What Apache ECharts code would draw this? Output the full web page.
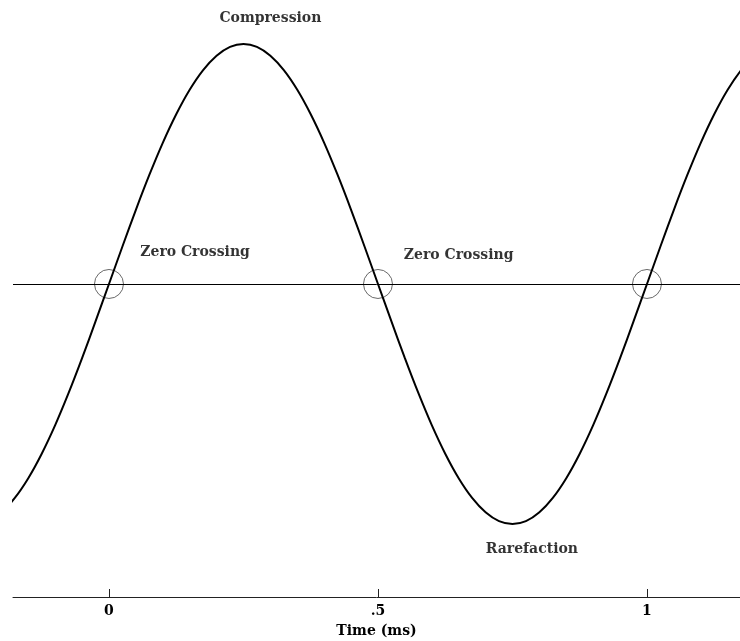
<!DOCTYPE html>
<html>
<head>
<meta charset="utf-8">
<script src="https://cdn.jsdelivr.net/npm/echarts@6/dist/echarts.min.js"></script>
<style>
html,body{margin:0;padding:0;background:#fff}
#chart{width:740px;height:641px}
</style>
</head>
<body>
<div id="chart"></div>
<script>
// time (ms) and pressure
let times = [-0.225,-0.20,-0.175,-0.15,-0.125,-0.10,-0.075,-0.05,-0.025,
    0,0.025,0.05,0.075,0.10,0.125,0.15,0.175,0.20,0.225,0.25,0.275,0.30,0.325,0.35,0.375,0.40,0.425,0.45,0.475,
    0.50,0.525,0.55,0.575,0.60,0.625,0.65,0.675,0.70,0.725,0.75,0.775,0.80,0.825,0.85,0.875,0.90,0.925,0.95,0.975,
    1.00,1.025,1.05,1.075,1.10,1.125,1.15,1.175,1.20,1.225]
let pressure = [-0.988,-0.951,-0.891,-0.809,-0.707,-0.588,-0.454,-0.309,-0.156,
    0,0.156,0.309,0.454,0.588,0.707,0.809,0.891,0.951,0.988,1.0,0.988,0.951,0.891,0.809,0.707,0.588,0.454,0.309,0.156,
    0,-0.156,-0.309,-0.454,-0.588,-0.707,-0.809,-0.891,-0.951,-0.988,-1.0,-0.988,-0.951,-0.891,-0.809,-0.707,-0.588,-0.454,-0.309,-0.156,
    0,0.156,0.309,0.454,0.588,0.707,0.809,0.891,0.951,0.988]
let crossings = [0,0.5,1]
let tickValues = [0,0.5,1]
let tickLabels = ["0",".5","1"]
let notes = [
    {text:"Compression", t:0.30, v:1.108},
    {text:"Zero Crossing", t:0.16, v:0.13},
    {text:"Zero Crossing", t:0.65, v:0.12},
    {text:"Rarefaction", t:0.786, v:-1.104}
]

let font = "DejaVu Serif"
let line = []
for(let i=0;i<times.length;i++){
    line.push([times[i],pressure[i]])
}

var myChart = echarts.init(document.getElementById('chart'))
var option = {
    animation:false,
    grid:{left:13,right:0,top:0,bottom:44,outerBoundsMode:'none',containLabel:false},
    xAxis:{
        type:'value',
        min:-0.1784,
        max:1.1729,
        axisLine:{onZero:false,lineStyle:{color:'#222',width:1}},
        axisTick:{inside:true,length:8,customValues:tickValues,lineStyle:{color:'#222'}},
        axisLabel:{
            customValues:tickValues,
            color:'#000',fontFamily:font,fontSize:14,fontWeight:'bold',margin:7,
            formatter:function(v){
                let i = tickValues.indexOf(v)
                return i>=0 ? tickLabels[i] : ''
            }
        },
        splitLine:{show:false},
        name:'Time (ms)',
        nameLocation:'middle',
        nameGap:27,
        nameTextStyle:{color:'#000',fontFamily:font,fontSize:14,fontWeight:'bold'}
    },
    yAxis:{
        type:'value',min:-1.304,max:1.183,show:false
    },
    series:[
        {
            type:'line',
            data:line,
            smooth:0.3,
            clip:true,
            symbol:'none',
            lineStyle:{color:'#000',width:2},
            markLine:{
                silent:true,symbol:'none',label:{show:false},
                lineStyle:{color:'#000',width:1,type:'solid'},
                data:[{yAxis:0}]
            }
        },
        {
            type:'scatter',
            data:crossings.map(function(t){return [t,0]}),
            symbolSize:29,
            itemStyle:{color:'rgba(0,0,0,0)',borderColor:'#444',borderWidth:1}
        },
        {
            type:'scatter',
            data:notes.map(function(n){return {value:[n.t,n.v],name:n.text}}),
            symbolSize:0,
            label:{
                show:true,position:'inside',
                formatter:'{b}',
                color:'#000',fontFamily:font,fontSize:14,fontWeight:'bold'
            }
        }
    ]
}
myChart.setOption(option)
</script>
</body>
</html>
